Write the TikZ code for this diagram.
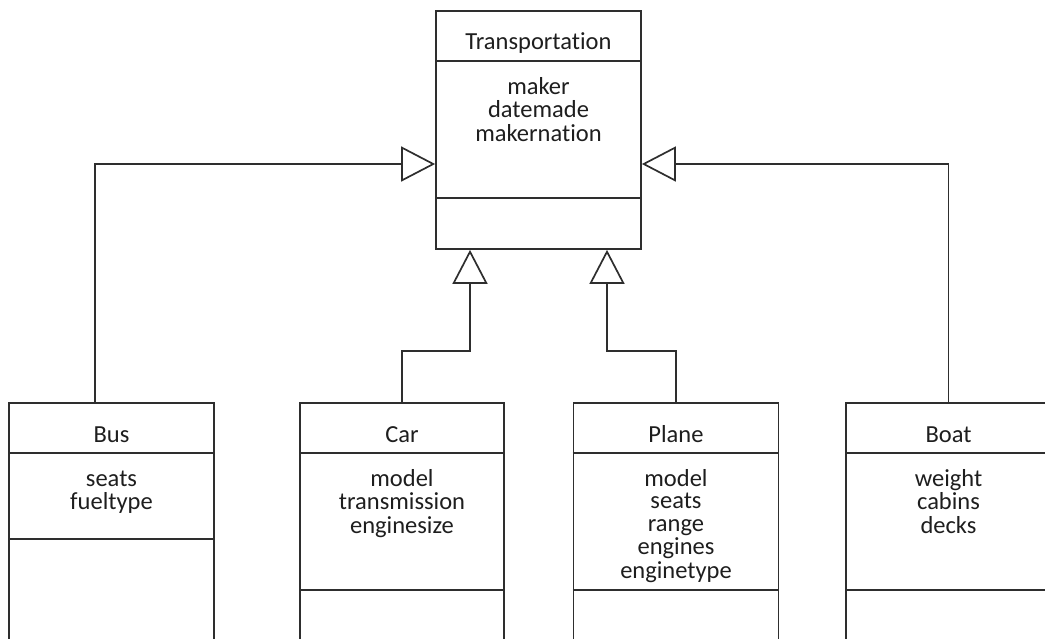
\documentclass[tikz,border=0pt]{standalone}
\usepackage{fontspec}
\setmainfont{Carlito}[Ligatures={NoCommon,NoRequired,NoContextual}]
\usetikzlibrary{arrows.meta,calc}

% centred column of attribute names, aligned on its first baseline
\newcommand\attrlist[1]{\begin{tabular}[t]{@{}c@{}}#1\end{tabular}}

\definecolor{umlline}{HTML}{2E2E2E}
\definecolor{umltext}{HTML}{1E1E1E}

\begin{document}
\begin{tikzpicture}[x=1pt, y=-1pt,
  line width=1.7pt, line join=miter,
  classbox/.style={draw=umlline, rectangle, inner sep=0pt, line width=1.7pt},
  classname/.style={anchor=base, inner sep=0pt, text=umltext,
    font=\fontsize{24.5}{22.5}\selectfont},
  classattrs/.style={anchor=base, inner sep=0pt, text=umltext,
    font=\fontsize{24.5}{22.5}\selectfont},
  inherits/.style={draw=umlline, line width=1.7pt,
    -{Triangle[length=34pt, width=35pt, fill=white, line join=miter]}},
]
\useasboundingbox (0,0) rectangle (1045,638);
\clip (0,0) rectangle (1045,638);

% ---- superclass ----
\node[classbox, minimum width=205pt, minimum height=238pt] (trans) at (538.5,130) {};
\draw[umlline] ($(trans.north west)+(0,51)$) -- ($(trans.north east)+(0,51)$);
\draw[umlline] ($(trans.north west)+(0,188)$) -- ($(trans.north east)+(0,188)$);
\node[classname] (transname) at ($(trans.north)+(0,39)$) {Transportation};
\node[classattrs] (transattrs) at ($(trans.north)+(0,84)$)
  {\attrlist{maker\\datemade\\makernation}};

% ---- subclasses (running off the lower edge) ----
\node[classbox, minimum width=205pt, minimum height=277pt] (bus)   at (111.5,541.5) {};
\node[classbox, minimum width=204pt, minimum height=277pt] (car)   at (402,541.5) {};
\node[classbox, minimum width=205pt, minimum height=277pt] (plane) at (676,541.5) {};
\node[classbox, minimum width=205pt, minimum height=277pt] (boat)  at (948.5,541.5) {};

\foreach \cls/\div in {bus/137, car/188, plane/188, boat/188}{
  \draw[umlline] ($(\cls.north west)+(0,51)$) -- ($(\cls.north east)+(0,51)$);
  \draw[umlline] ($(\cls.north west)+(0,\div)$) -- ($(\cls.north east)+(0,\div)$);
}

\node[classname] (busname)   at ($(bus.north)+(0,40)$)   {Bus};
\node[classname] (carname)   at ($(car.north)+(0,40)$)   {Car};
\node[classname] (planename) at ($(plane.north)+(0,40)$) {Plane};
\node[classname] (boatname)  at ($(boat.north)+(0,40)$)  {Boat};

\node[classattrs] (busattrs)   at ($(bus.north)+(0,84)$)
  {\attrlist{seats\\fueltype}};
\node[classattrs] (carattrs)   at ($(car.north)+(0,84)$)
  {\attrlist{model\\transmission\\enginesize}};
\node[classattrs] (planeattrs) at ($(plane.north)+(0,84)$)
  {\attrlist{model\\seats\\range\\engines\\enginetype}};
\node[classattrs] (boatattrs)  at ($(boat.north)+(0,84)$)
  {\attrlist{weight\\cabins\\decks}};

% ---- generalisation connectors ----
\draw[inherits] ([xshift=-16.5pt]bus.north) |- ([yshift=-34pt]trans.west);
\draw[inherits] (boat.north) |- ([yshift=-34pt]trans.east);
\draw[inherits] (car.north) -- ++(0,-51) -| ([xshift=-68.5pt]trans.south);
\draw[inherits] (plane.north) -- ++(0,-51) -| ([xshift=68.5pt]trans.south);
\end{tikzpicture}
\end{document}
